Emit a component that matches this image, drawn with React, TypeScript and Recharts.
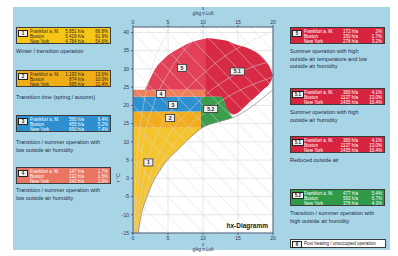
import React from "react";
import { ComposedChart, Area, Line, Scatter, XAxis, YAxis, CartesianGrid } from "recharts";

// operating hours per zone for the three cities
const cities = ["Frankfurt a. M.", "Boston", "New York"];
const hours1 = ["5.851 h/a", "5.419 h/a", "4.784 h/a"];
const share1 = ["66.8%", "61.9%", "54.6%"];
const hours2 = ["1.193 h/a", "874 h/a", "995 h/a"];
const share2 = ["13.6%", "10.0%", "11.4%"];
const hours3 = ["560 h/a", "455 h/a", "650 h/a"];
const share3 = ["6.4%", "5.2%", "7.4%"];
const hours4 = ["147 h/a", "132 h/a", "243 h/a"];
const share4 = ["1.7%", "1.5%", "2.8%"];
const hours5 = ["172 h/a", "150 h/a", "278 h/a"];
const share5 = ["2%", "1.7%", "3.2%"];
const hours51 = ["360 h/a", "1137 h/a", "1435 h/a"];
const share51 = ["4.1%", "13.0%", "16.4%"];
const hours52 = ["477 h/a", "593 h/a", "376 h/a"];
const share52 = ["5.4%", "6.7%", "4.3%"];

// axes
const xTicks = [0, 5, 10, 15, 20];
const tTicks = [-15, -10, -5, 0, 5, 10, 15, 20, 25, 30, 35, 40];

// zones: x in g/kg, t = [low, high] in °C
const zone1 = [
  { x: 0, t: [-15, 13.9] },
  { x: 0.7, t: [-15, 13.9] },
  { x: 1.1, t: [-10.8, 13.9] },
  { x: 2.1, t: [-4.5, 13.9] },
  { x: 4.1, t: [2.9, 13.9] },
  { x: 6.7, t: [8.4, 13.9] },
  { x: 9.9, t: [13.9, 13.9] },
];
const zone2 = [
  { x: 0, t: [13.9, 18.3] },
  { x: 9.7, t: [13.9, 18.3] },
];
const zone3 = [
  { x: 0, t: [18.3, 22.4] },
  { x: 9.7, t: [18.3, 22.4] },
];
const zone4 = [
  { x: 0, t: [22.4, 24.3] },
  { x: 10.3, t: [22.4, 24.3] },
];
const zone5 = [
  { x: 1.7, t: [24.3, 24.3] },
  { x: 2.4, t: [24.3, 27.1] },
  { x: 3.1, t: [24.3, 29.8] },
  { x: 4.6, t: [24.3, 33.1] },
  { x: 6.3, t: [24.3, 35.3] },
  { x: 8.6, t: [24.3, 37.5] },
  { x: 10.3, t: [24.3, 38.3] },
];
const zone51 = [
  { x: 10.3, t: [22.4, 38.3] },
  { x: 10.6, t: [22.4, 38.4] },
  { x: 12.6, t: [22.4, 38.0] },
  { x: 13.6, t: [18.5, 37.6] },
  { x: 14.3, t: [17.5, 37.0] },
  { x: 16.7, t: [21.0, 35.5] },
  { x: 18.6, t: [24.3, 33.0] },
  { x: 19.7, t: [26.6, 29.8] },
  { x: 20, t: [28.2, 28.2] },
];
const zone52 = [
  { x: 9.7, t: [13.7, 22.4] },
  { x: 10.3, t: [14.3, 22.4] },
  { x: 12.6, t: [15.6, 22.4] },
  { x: 13.6, t: [16.2, 18.5] },
  { x: 14.2, t: [16.6, 16.8] },
];

const saturation = [
  { x: 0.7, t: -15 },
  { x: 1.1, t: -10.8 },
  { x: 2.1, t: -4.5 },
  { x: 4.1, t: 2.9 },
  { x: 6.7, t: 8.4 },
  { x: 9.9, t: 13.9 },
  { x: 11.7, t: 15.3 },
  { x: 14.6, t: 16.9 },
  { x: 16.7, t: 19.3 },
  { x: 18.4, t: 21.8 },
  { x: 20, t: 24.3 },
];

const rh10 = [{ x: 0.1, t: -15 }, { x: 0.4, t: 0 }, { x: 0.8, t: 10 }, { x: 1.5, t: 20 }, { x: 2.7, t: 30 }, { x: 4.9, t: 40 }, { x: 5.4, t: 42 }];
const rh20 = [{ x: 0.2, t: -15 }, { x: 0.8, t: 0 }, { x: 1.5, t: 10 }, { x: 2.9, t: 20 }, { x: 5.4, t: 30 }, { x: 9.8, t: 40 }, { x: 10.8, t: 42 }];
const rh40 = [{ x: 0.4, t: -15 }, { x: 1.5, t: 0 }, { x: 3.0, t: 10 }, { x: 5.9, t: 20 }, { x: 10.8, t: 30 }, { x: 19.5, t: 40 }];
const rh60 = [{ x: 0.6, t: -15 }, { x: 2.3, t: 0 }, { x: 4.6, t: 10 }, { x: 8.8, t: 20 }, { x: 16.3, t: 30 }, { x: 21, t: 32.5 }];
const rh80 = [{ x: 0.8, t: -15 }, { x: 3.0, t: 0 }, { x: 6.1, t: 10 }, { x: 11.7, t: 20 }, { x: 20, t: 27.8 }];

// enthalpy lines, by temperature where they cross x = 0
const enthalpyStarts = [-10, -5, 0, 5, 10, 15, 20, 25, 30, 35, 40, 45, 50, 55, 60, 65, 70, 75, 80];
const ENTHALPY_DROP = 40; // °C drop across 0..20 g/kg

const zoneLabels = [
  { x: 2.2, t: 4.35, name: "1" },
  { x: 5.3, t: 16.55, name: "2" },
  { x: 5.7, t: 20.1, name: "3" },
  { x: 4.0, t: 23.1, name: "4" },
  { x: 7.0, t: 30.3, name: "5" },
  { x: 14.9, t: 29.3, name: "5.1" },
  { x: 11.1, t: 19.0, name: "5.2" },
];

const zones = [
  { data: zone1, color: "#f5c42c" },
  { data: zone2, color: "#f2ad1f" },
  { data: zone3, color: "#2e90d0" },
  { data: zone4, color: "#ee7f5a" },
  { data: zone5, color: "#e3405a" },
  { data: zone51, color: "#d82a45" },
  { data: zone52, color: "#3a9e4c" },
];

const FONT = "'Liberation Sans', Arial, sans-serif";
const INK = "#22365f";

type PanelSpec = {
  id: string;
  color: string;
  ink: string;
  hours: string[];
  share: string[];
  caption: string[];
  x: number;
  y: number;
  capY: number;
};

const panels: PanelSpec[] = [
  { id: "1", color: "#f5c518", ink: "#2d2a1a", hours: hours1, share: share1, caption: ["Winter / transition operation"], x: 16, y: 27, capY: 48 },
  { id: "2", color: "#f0ad18", ink: "#2d2a1a", hours: hours2, share: share2, caption: ["Transition time (spring / autumn)"], x: 16, y: 70, capY: 94 },
  { id: "3", color: "#2d8fd0", ink: "#ffffff", hours: hours3, share: share3, caption: ["Transition / summer operation with", "low outside air humidity"], x: 16, y: 115, capY: 139 },
  { id: "4", color: "#ea7560", ink: "#ffffff", hours: hours4, share: share4, caption: ["Transition / summer operation with", "low outside air humidity"], x: 16, y: 167, capY: 187 },
  { id: "5", color: "#d8253f", ink: "#ffffff", hours: hours5, share: share5, caption: ["Summer operation with high", "outside air temperature and low", "outside air humidity"], x: 290, y: 27, capY: 48 },
  { id: "5.1", color: "#d8253f", ink: "#ffffff", hours: hours51, share: share51, caption: ["Summer operation with high", "outside air humidity"], x: 290, y: 88, capY: 109 },
  { id: "5.1", color: "#d8253f", ink: "#ffffff", hours: hours51, share: share51, caption: ["Reduced outside air"], x: 290, y: 136, capY: 157 },
  { id: "5.2", color: "#2f9a48", ink: "#ffffff", hours: hours52, share: share52, caption: ["Transition / summer operation with", "high outside air humidity"], x: 290, y: 189, capY: 210 },
];

function Badge({ id }: { id: string }) {
  return (
    <div
      style={{
        position: "absolute",
        left: 1,
        top: 1.5,
        width: id.length > 1 ? 10 : 8,
        height: 5,
        background: "#f2f2f2",
        border: "0.8px solid #222",
        color: "#222",
        fontWeight: 700,
        fontSize: 4.5,
        lineHeight: "5px",
        textAlign: "center",
      }}
    >
      {id}
    </div>
  );
}

function Panel({ p }: { p: PanelSpec }) {
  const w = 95;
  return (
    <>
      <div
        style={{
          position: "absolute",
          left: p.x,
          top: p.y,
          width: w,
          height: 17,
          boxSizing: "border-box",
          background: p.color,
          border: "1px solid #3b3b3b",
          color: p.ink,
          fontSize: 4.5,
          lineHeight: "5px",
        }}
      >
        <Badge id={p.id} />
        {cities.map((c, i) => (
          <div key={c} style={{ position: "absolute", left: 0, right: 0, top: 0.8 + i * 5, height: 5, whiteSpace: "nowrap" }}>
            <span style={{ position: "absolute", left: 13 }}>{c}</span>
            <span style={{ position: "absolute", right: w - 69 }}>{p.hours[i]}</span>
            <span style={{ position: "absolute", right: 2 }}>{p.share[i]}</span>
          </div>
        ))}
      </div>
      <div
        style={{
          position: "absolute",
          left: p.x,
          top: p.capY,
          width: 110,
          fontSize: 5.5,
          lineHeight: "7.5px",
          color: "#1c2a4a",
          whiteSpace: "nowrap",
        }}
      >
        {p.caption.map((l) => (
          <div key={l}>{l}</div>
        ))}
      </div>
    </>
  );
}

const LabelBox = (props: any) => {
  const { cx, cy, payload } = props;
  const w = payload.name.length > 1 ? 14 : 9;
  return (
    <g>
      <rect x={cx - w / 2} y={cy - 3.5} width={w} height={7} fill="#eeeeee" stroke="#333" strokeWidth={0.8} />
      <text x={cx} y={cy + 1.8} textAnchor="middle" fontSize={5} fontWeight="bold" fill="#222" fontFamily={FONT}>
        {payload.name}
      </text>
    </g>
  );
};

const tickStyle = { fontSize: 5, fill: INK, fontFamily: FONT };

export default function App() {
  const enthalpyLines = enthalpyStarts.map((s) => [
    { x: 0, t: s },
    { x: 20, t: s - ENTHALPY_DROP },
  ]);
  const rhLines = [rh10, rh20, rh40, rh60, rh80];

  return (
    <div style={{ position: "absolute", left: 0, top: 0, width: 398, height: 256, background: "#fff", fontFamily: FONT, overflow: "hidden" }}>
      <div style={{ position: "absolute", left: 13, top: 7, width: 377, height: 243, background: "#a8d5e5" }} />

      <div style={{ position: "absolute", left: 0, top: 0 }}>
        <ComposedChart width={398} height={256} margin={{ top: 13, right: 124, bottom: 11, left: 113 }}>
          <CartesianGrid xAxisId="b" yAxisId="l" fill="#ffffff" stroke="#cfcfcf" strokeWidth={0.5} />
          <XAxis xAxisId="b" type="number" dataKey="x" domain={[0, 20]} ticks={xTicks} interval={0} allowDataOverflow orientation="bottom" height={12} tick={tickStyle} tickSize={2} tickMargin={1} stroke="#4d5d7a" />
          <XAxis xAxisId="t" type="number" dataKey="x" domain={[0, 20]} ticks={xTicks} interval={0} allowDataOverflow orientation="top" height={14} tick={tickStyle} tickSize={2} tickMargin={1} stroke="#4d5d7a" />
          <YAxis yAxisId="l" type="number" domain={[-15, 41.5]} ticks={tTicks} interval={0} allowDataOverflow width={20} tick={tickStyle} tickSize={2} tickMargin={2} stroke="#4d5d7a" />
          <YAxis yAxisId="r" orientation="right" type="number" domain={[-15, 41.5]} allowDataOverflow tick={false} width={1} stroke="#4d5d7a" />

          {zones.map((z, i) => (
            <Area
              key={"z" + i}
              xAxisId="b"
              yAxisId="l"
              data={z.data}
              dataKey="t"
              type="monotone"
              fill={z.color}
              fillOpacity={1}
              stroke="none"
              isAnimationActive={false}
            />
          ))}

          {enthalpyLines.map((d, i) => (
            <Line key={"h" + i} xAxisId="b" yAxisId="l" data={d} dataKey="t" type="linear" stroke="#d9d9d9" strokeWidth={0.5} dot={false} activeDot={false} isAnimationActive={false} />
          ))}
          {rhLines.map((d, i) => (
            <Line key={"rh" + i} xAxisId="b" yAxisId="l" data={d} dataKey="t" type="monotone" stroke="#d9d9d9" strokeWidth={0.5} dot={false} activeDot={false} isAnimationActive={false} />
          ))}
          <Line xAxisId="b" yAxisId="l" data={saturation} dataKey="t" type="monotone" stroke="#8a8a8a" strokeWidth={0.7} dot={false} activeDot={false} isAnimationActive={false} />

          <Scatter xAxisId="b" yAxisId="l" data={zoneLabels} dataKey="t" shape={LabelBox} isAnimationActive={false} />
        </ComposedChart>
      </div>

      {/* axis captions */}
      <div style={{ position: "absolute", left: 183, top: 6, width: 40, textAlign: "center", fontSize: 4.5, lineHeight: "5px", color: INK }}>
        <div>x</div>
        <div>g/kg tr.Luft</div>
      </div>
      <div style={{ position: "absolute", left: 183, top: 242, width: 40, textAlign: "center", fontSize: 4.5, lineHeight: "5px", color: INK }}>
        <div>x</div>
        <div>g/kg tr.Luft</div>
      </div>
      <div style={{ position: "absolute", left: 110, top: 175, width: 16, textAlign: "center", fontSize: 5, lineHeight: "5px", color: INK, transform: "rotate(-90deg)" }}>
        t °C
      </div>
      <div style={{ position: "absolute", left: 222, top: 222, width: 46, textAlign: "right", fontSize: 6.5, fontWeight: 700, color: "#1a1a1a" }}>
        hx-Diagramm
      </div>

      {panels.map((p, i) => (
        <Panel key={i} p={p} />
      ))}

      <div
        style={{
          position: "absolute",
          left: 290,
          top: 239,
          width: 96,
          height: 9,
          boxSizing: "border-box",
          background: "#ffffff",
          border: "1px solid #3b3b3b",
          fontSize: 4.5,
          lineHeight: "7px",
          color: "#222",
          whiteSpace: "nowrap",
        }}
      >
        <div style={{ position: "absolute", left: 1, top: 0.5, width: 8, height: 5, background: "#f2f2f2", border: "0.8px solid #222", fontWeight: 700, lineHeight: "5px", textAlign: "center" }}>6</div>
        <span style={{ position: "absolute", left: 13 }}>Post heating / unoccupied operation</span>
      </div>
    </div>
  );
}
